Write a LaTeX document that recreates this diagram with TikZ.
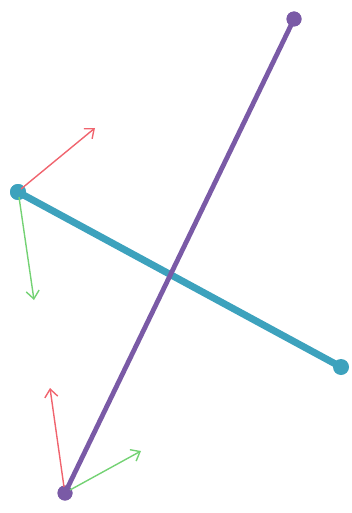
\documentclass[tikz,border=0pt]{standalone}
\usetikzlibrary{arrows.meta}
\definecolor{vio}{HTML}{7A5AA6}
\definecolor{tealc}{HTML}{3DA2BD}
\definecolor{redc}{HTML}{F0646E}
\definecolor{greenc}{HTML}{74D274}
\tikzset{
  dot/.style={circle,inner sep=0pt,minimum size=#1},
  vec/.style={line width=1.4pt,-{Straight Barb[length=8pt,width=13pt]}},
}
\begin{document}
\begin{tikzpicture}[x=1pt,y=-1pt]
\useasboundingbox (0,0) rectangle (352,513);
% endpoints
\node[dot=16pt,fill=tealc] (tl) at (18,192) {};
\node[dot=16pt,fill=tealc] (tr) at (341,367) {};
\node[dot=15pt,fill=vio] (pt) at (294,19) {};
\node[dot=15pt,fill=vio] (pb) at (65,493) {};
% bars
\draw[tealc,line width=7pt] (tl.center) -- (tr.center);
\draw[vio,line width=4.8pt] (pb.center) -- (pt.center);
\node[dot=15pt,fill=vio] at (pt) {};
\node[dot=15pt,fill=vio] at (pb) {};
\node[dot=16pt,fill=tealc] at (tl) {};
% vector tips
\coordinate (r1) at (95,128);
\coordinate (g1) at (34,300);
\coordinate (r2) at (50,388);
\coordinate (g2) at (141,451);
\draw[vec,redc] (tl.center) ++(3,-3) -- (r1);
\draw[vec,greenc] (tl.center) ++(1,5) -- (g1);
\draw[vec,redc] (pb.center) ++(-1,-6) -- (r2);
\draw[vec,greenc] (pb.center) ++(5,-3) -- (g2);
\end{tikzpicture}
\end{document}
